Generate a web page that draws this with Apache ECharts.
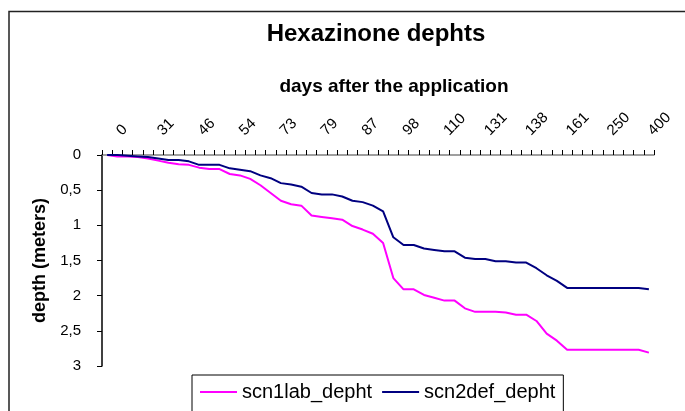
<!DOCTYPE html>
<html>
<head>
<meta charset="utf-8">
<script src="https://cdn.jsdelivr.net/npm/echarts@6/dist/echarts.min.js"></script>
<style>
html,body{margin:0;padding:0;background:#fff;}
#c{width:685px;height:411px;}
</style>
</head>
<body>
<div id="c"></div>
<script>
// Day categories (only every 4th label is visible in the reference; others estimated)
const days = [0,7,14,21,31,35,39,42,46,48,50,52,54,59,64,68,73,74,76,77,79,81,83,85,87,90,92,95,98,101,104,107,110,115,120,125,131,133,135,136,138,143,149,155,161,180,200,225,250,290,330,365,400,430];
const scn1lab_depht = [0,0.02,0.02,0.03,0.05,0.08,0.11,0.13,0.14,0.18,0.20,0.20,0.27,0.29,0.34,0.43,0.54,0.65,0.70,0.72,0.86,0.88,0.90,0.92,1.01,1.06,1.12,1.25,1.75,1.91,1.91,1.99,2.03,2.07,2.07,2.18,2.23,2.23,2.23,2.24,2.27,2.27,2.36,2.54,2.64,2.77,2.77,2.77,2.77,2.77,2.77,2.77,2.77,2.81];
const scn2def_depht = [0,0,0.01,0.02,0.03,0.05,0.07,0.07,0.09,0.14,0.14,0.14,0.19,0.21,0.23,0.29,0.33,0.40,0.42,0.45,0.54,0.56,0.56,0.59,0.65,0.67,0.72,0.80,1.17,1.28,1.28,1.33,1.35,1.37,1.37,1.46,1.48,1.48,1.51,1.51,1.53,1.53,1.61,1.71,1.79,1.89,1.89,1.89,1.89,1.89,1.89,1.89,1.89,1.91];
const yTicks = [0,0.5,1,1.5,2,2.5,3];

const FONT = '"Liberation Sans", Arial, sans-serif';
const chart = echarts.init(document.getElementById('c'), null, {renderer:'canvas'});
chart.setOption({
  backgroundColor:'#fff',
  animation:false,
  title:{
    text:'Hexazinone dephts',
    left:371, top:17, textAlign:'center',
    textStyle:{fontFamily:FONT,fontSize:24,fontWeight:'bold',color:'#000'}
  },
  graphic:[{
    type:'rect', shape:{x:9,y:11.5,width:720,height:440},
    style:{fill:'none',stroke:'#222',lineWidth:1.5}, silent:true, z:-1
  }],
  legend:{
    left:192, top:375,
    data:['scn1lab_depht','scn2def_depht'],
    icon:'path://M0,0 L40,0 L40,2 L0,2 Z',
    itemWidth:37, itemHeight:2, itemGap:10,
    borderColor:'#000', borderWidth:1,
    padding:[7,8,20,8],
    textStyle:{fontFamily:FONT,fontSize:20,color:'#000'}
  },
  grid:{left:102, top:155, width:552, height:211},
  xAxis:{
    type:'category', position:'top', data:days, boundaryGap:true,
    name:'days after the application', nameLocation:'middle', nameGap:59,
    nameTextStyle:{fontFamily:FONT,fontSize:19,fontWeight:'bold',color:'#000',padding:[0,0,0,32]},
    axisLine:{lineStyle:{color:'#808080',width:1.5}},
    axisTick:{show:true,interval:0,length:5,lineStyle:{color:'#000'}},
    axisLabel:{interval:3,rotate:45,margin:10,padding:[0,0,0,17],fontFamily:FONT,fontSize:15,color:'#000'},
    splitLine:{show:false}
  },
  yAxis:{
    type:'value', inverse:true, min:0, max:3, interval:0.5,
    name:'depth (meters)', nameLocation:'middle', nameGap:48,
    nameTextStyle:{fontFamily:FONT,fontSize:18,fontWeight:'bold',color:'#000'},
    axisLine:{show:true,lineStyle:{color:'#000',width:1.5}},
    axisTick:{show:true,length:5,lineStyle:{color:'#000'}},
    axisLabel:{margin:21,fontFamily:FONT,fontSize:15,color:'#000',
      formatter:v=>String(v).replace('.',',')},
    splitLine:{show:false}
  },
  series:[
    {name:'scn1lab_depht',type:'line',data:scn1lab_depht,symbol:'none',
     lineStyle:{color:'#FF00FF',width:2},itemStyle:{color:'#FF00FF'}},
    {name:'scn2def_depht',type:'line',data:scn2def_depht,symbol:'none',
     lineStyle:{color:'#000080',width:2},itemStyle:{color:'#000080'}}
  ]
});
</script>
</body>
</html>
